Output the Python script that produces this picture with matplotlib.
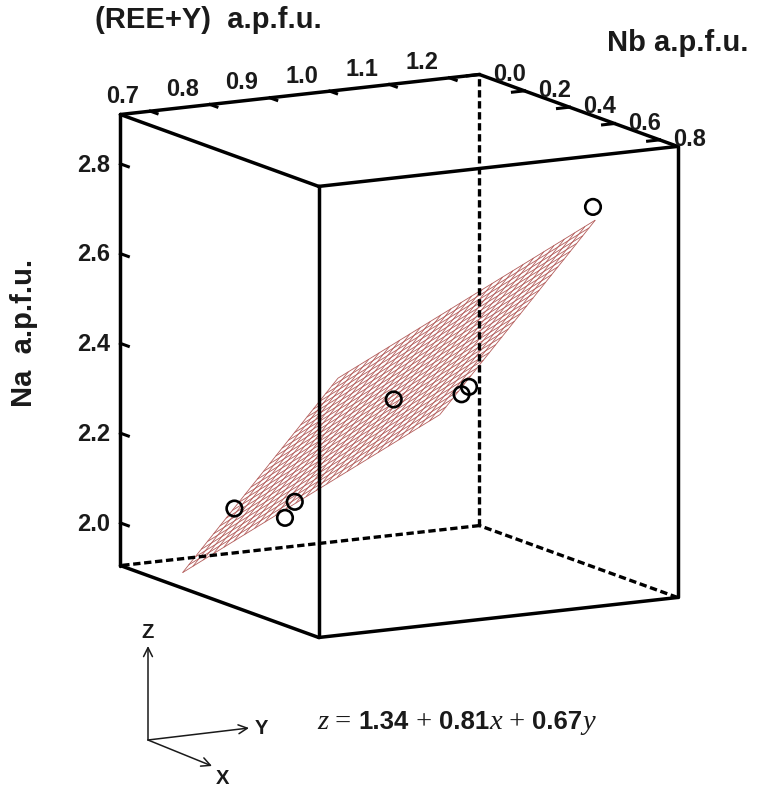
import numpy as np
import matplotlib
matplotlib.use("Agg")
import matplotlib.pyplot as plt
from mpl_toolkits.mplot3d import proj3d

# ---------------------------------------------------------------------------
# Data (a.p.f.u.)
# ---------------------------------------------------------------------------
REE_Y = [0.72, 0.91, 0.90, 0.96, 1.16, 1.18, 1.15]
NB = [0.32, 0.04, 0.11, 0.39, 0.16, 0.14, 0.77]
NA = [2.08, 1.98, 2.03, 2.30, 2.24, 2.25, 2.77]

# fitted plane: Na = a + b*Nb + c*(REE+Y)
FIT_A, FIT_B, FIT_C = 1.34, 0.81, 0.67
PLANE_REE = (0.72, 1.15)
PLANE_NB = (0.09, 0.78)

REE_LIM = (0.65, 1.25)
NB_LIM = (0.0, 0.88)
NA_LIM = (1.905, 2.91)
REE_TICKS = [0.7, 0.8, 0.9, 1.0, 1.1, 1.2]
NB_TICKS = [0.0, 0.2, 0.4, 0.6, 0.8]
NA_TICKS = [2.0, 2.2, 2.4, 2.6, 2.8]

SANS = "Liberation Sans"
SERIF = "Liberation Serif"
INK = "#1a1a1a"
W, H = 761, 787


def label3d(ax, x, y, z, s, **kw):
    """Put a flat text label at a projected 3D position."""
    xp, yp, _ = proj3d.proj_transform(x, y, z, ax.get_proj())
    ax.text2D(xp, yp, s, transform=ax.transData, **kw)


def draw_box(ax):
    x0, x1 = REE_LIM
    y0, y1 = NB_LIM
    z0, z1 = NA_LIM
    solid = [
        ((x0, x1), (y0, y0), (z1, z1)),
        ((x1, x1), (y0, y1), (z1, z1)),
        ((x1, x0), (y1, y1), (z1, z1)),
        ((x0, x0), (y1, y0), (z1, z1)),
        ((x0, x0), (y0, y0), (z0, z1)),
        ((x0, x0), (y1, y1), (z0, z1)),
        ((x1, x1), (y1, y1), (z0, z1)),
        ((x0, x0), (y0, y1), (z0, z0)),
        ((x0, x1), (y1, y1), (z0, z0)),
    ]
    hidden = [
        ((x1, x1), (y0, y0), (z0, z1)),
        ((x1, x1), (y1, y0), (z0, z0)),
        ((x1, x0), (y0, y0), (z0, z0)),
    ]
    for xs, ys, zs in solid:
        ax.plot(xs, ys, zs, color="black", lw=2.5, solid_capstyle="round", zorder=3)
    for xs, ys, zs in hidden:
        ax.plot(xs, ys, zs, color="black", lw=2.4, linestyle=(0, (2.2, 1.1)), zorder=3)


def draw_ticks(ax):
    x0, x1 = REE_LIM
    y0, y1 = NB_LIM
    z0, z1 = NA_LIM
    lab = dict(fontsize=17, fontweight="bold", family=SANS, color=INK)
    for t in REE_TICKS:
        ax.plot((t, t), (y0, y0 + 0.03), (z1, z1), color="black", lw=2.2, zorder=3)
        label3d(ax, t, y0 - 0.124, z1 + 0.011, f"{t:.1f}", ha="center", va="center", **lab)
    for t in NB_TICKS:
        ax.plot((x1, x1 - 0.02), (t, t), (z1, z1), color="black", lw=2.2, zorder=3)
        label3d(ax, x1 + 0.05, t, z1 - 0.007, f"{t:.1f}", ha="center", va="center", **lab)
    for t in NA_TICKS:
        ax.plot((x0, x0), (y0, y0 + 0.035), (t, t), color="black", lw=2.2, zorder=3)
        label3d(ax, x0 - 0.017, y0, t, f"{t:.1f}", ha="right", va="center", **lab)


def draw_equation(fig):
    pieces = [
        ("z", SERIF, "normal", "italic"),
        (" = ", SERIF, "normal", "normal"),
        (f"{FIT_A:.2f}", SANS, "bold", "normal"),
        (" + ", SERIF, "normal", "normal"),
        (f"{FIT_B:.2f}", SANS, "bold", "normal"),
        ("x", SERIF, "normal", "italic"),
        (" + ", SERIF, "normal", "normal"),
        (f"{FIT_C:.2f}", SANS, "bold", "normal"),
        ("y", SERIF, "normal", "italic"),
    ]
    base = H - 729
    prev = None
    for s, fam, wt, st in pieces:
        size = 18.5 if fam == SANS else 20.5
        if prev is None:
            prev = fig.text(317 / W, base / H, s, family=fam, fontweight=wt, style=st,
                            fontsize=size, color=INK, va="baseline", ha="left")
        else:
            prev = fig.add_artist(plt.Annotation(
                s, xy=(1.0, base), xycoords=(prev, "figure pixels"),
                family=fam, fontweight=wt, style=st, fontsize=size,
                color=INK, va="baseline", ha="left"))


def draw_triad(fig):
    origin = (148, H - 740)
    tips = {"Z": (148, H - 646), "Y": (249, H - 728), "X": (212, H - 766)}
    labels = {"Z": (148, H - 632), "Y": (261, H - 729), "X": (223, H - 778)}
    for k, tip in tips.items():
        fig.add_artist(plt.Annotation(
            "", xy=tip, xytext=origin, xycoords="figure pixels",
            textcoords="figure pixels",
            arrowprops=dict(arrowstyle="->", lw=1.1, color=INK,
                            shrinkA=0, shrinkB=0, mutation_scale=16)))
        fig.text(labels[k][0] / W, labels[k][1] / H, k, ha="center", va="center",
                 fontsize=14.5, fontweight="bold", family=SANS, color=INK)


def main():
    fig = plt.figure(figsize=(W / 100, H / 100), dpi=100)
    fig.patch.set_facecolor("white")

    side = 718.4
    cx, cy = 399, H - 356
    left = cx - 0.5135 * side
    bottom = cy - 0.5135 * side
    ax = fig.add_axes([left / W, bottom / H, side / W, side / H], projection="3d",
                      proj_type="ortho", computed_zorder=False)
    ax.set_box_aspect((410.3, 408.8, 460.4))
    ax.view_init(elev=11.6, azim=-119.0)
    ax.set_xlim(*REE_LIM)
    ax.set_ylim(NB_LIM[1], NB_LIM[0])
    ax.set_zlim(*NA_LIM)
    ax.set_axis_off()

    # regression plane as a wire mesh
    pr = np.linspace(*PLANE_REE, 26)
    pn = np.linspace(*PLANE_NB, 26)
    R, N = np.meshgrid(pr, pn)
    Z = FIT_A + FIT_B * N + FIT_C * R
    ax.plot_wireframe(R, N, Z, color="#b35c5a", linewidth=0.6, zorder=1)

    draw_box(ax)
    draw_ticks(ax)

    ax.scatter(REE_Y, NB, NA, s=125, facecolors="none", edgecolors="black",
               linewidths=1.9, depthshade=False, zorder=5)

    title = dict(fontsize=21, fontweight="bold", family=SANS, color=INK)
    fig.text(95 / W, (H - 20) / H, "(REE+Y)  a.p.f.u.", ha="left", va="center", **title)
    fig.text(607 / W, (H - 43) / H, "Nb a.p.f.u.", ha="left", va="center", **title)
    fig.text(24 / W, (H - 333) / H, "Na  a.p.f.u.", ha="center", va="center",
             rotation=90, **title)

    draw_equation(fig)
    draw_triad(fig)

    fig.savefig("out.png", dpi=100, facecolor="white")
    plt.close(fig)


if __name__ == "__main__":
    main()
